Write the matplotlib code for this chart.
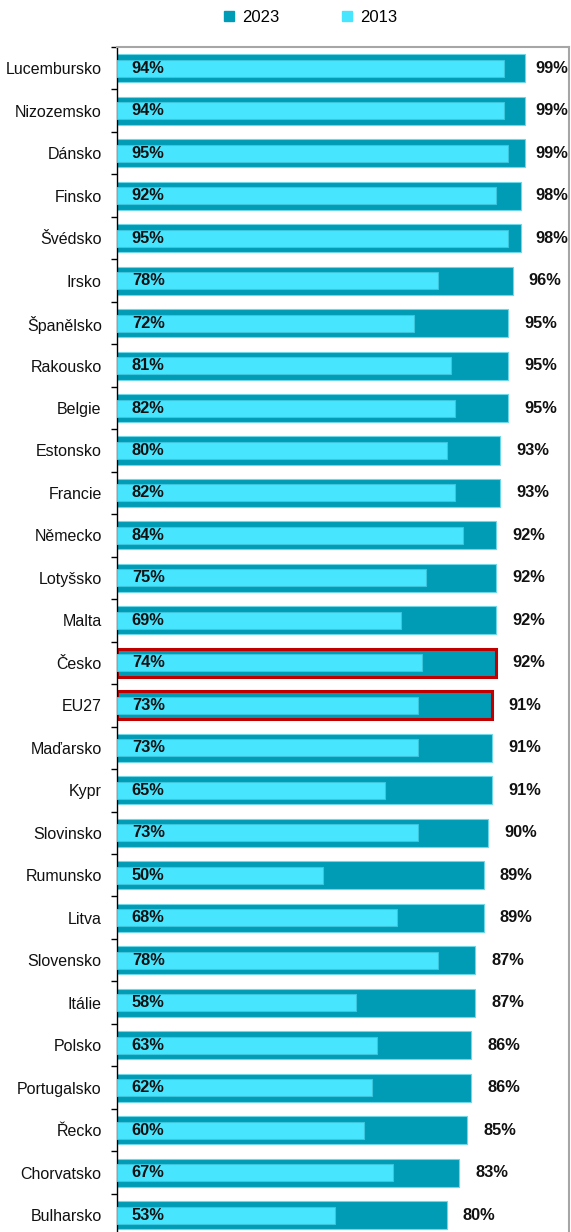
import matplotlib
matplotlib.use("Agg")
import matplotlib.pyplot as plt
from matplotlib.lines import Line2D

plt.rcParams['font.family'] = ['Liberation Sans', 'DejaVu Sans']

countries = ["Lucembursko", "Nizozemsko", "Dánsko", "Finsko", "Švédsko", "Irsko",
             "Španělsko", "Rakousko", "Belgie", "Estonsko", "Francie", "Německo",
             "Lotyšsko", "Malta", "Česko", "EU27", "Maďarsko", "Kypr", "Slovinsko",
             "Rumunsko", "Litva", "Slovensko", "Itálie", "Polsko", "Portugalsko",
             "Řecko", "Chorvatsko", "Bulharsko"]
v2023 = [99, 99, 99, 98, 98, 96, 95, 95, 95, 93, 93, 92, 92, 92, 92, 91, 91, 91, 90,
         89, 89, 87, 87, 86, 86, 85, 83, 80]
v2013 = [94, 94, 95, 92, 95, 78, 72, 81, 82, 80, 82, 84, 75, 69, 74, 73, 73, 65, 73,
         50, 68, 78, 58, 63, 62, 60, 67, 53]
highlight = ["Česko", "EU27"]

C23 = "#009BB5"
C13 = "#48E5FF"
W, H = 571, 1232
fig = plt.figure(figsize=(W / 100, H / 100), dpi=100)
top_px, bot_px, left_px, right_px = 47, 1236.25, 117, 569
ax = fig.add_axes([left_px / W, (H - bot_px) / H, (right_px - left_px) / W, (bot_px - top_px) / H])

y = list(range(len(countries)))
for i, (c, a, b) in enumerate(zip(countries, v2023, v2013)):
    if c in highlight:
        ax.barh(i, a, height=0.66, color=C23, edgecolor="#C00000", linewidth=2.2, zorder=2)
    else:
        ax.barh(i, a, height=0.66, color=C23, edgecolor="#6ED8E8", linewidth=0.8, zorder=2)
    ax.barh(i, b, height=0.40, color=C13, edgecolor="#3CC6DE", linewidth=0.8, zorder=3)
    ax.text(3.6, i, f"{b}%", ha="left", va="center", fontsize=11.8, fontweight="bold",
            color="#111111", zorder=4)
    ax.text(min(a + 3.9, 101.6), i, f"{a}%", ha="left", va="center", fontsize=11.8,
            fontweight="bold", color="#111111", zorder=4, clip_on=True)

ax.set_xlim(0, 109.7)
ax.set_ylim(len(countries) - 0.5, -0.5)
ax.set_yticks(y)
ax.set_yticklabels(countries, fontsize=11.5, color="#111111")
ax.set_yticks([i - 0.5 for i in range(len(countries) + 1)], minor=True)
ax.tick_params(axis="y", which="major", length=0, pad=11)
ax.tick_params(axis="y", which="minor", length=4, width=1, color="black", direction="out")
ax.set_xticks([])
for s in ["top", "right"]:
    ax.spines[s].set_color("#A6A6A6")
    ax.spines[s].set_linewidth(1.5)
ax.spines["bottom"].set_visible(False)
ax.spines["left"].set_color("black")
ax.spines["left"].set_linewidth(1)

handles = [Line2D([], [], marker="s", linestyle="none", markersize=7, color=C23),
           Line2D([], [], marker="s", linestyle="none", markersize=7, color=C13)]
fig.legend(handles, ["2023", "2013"], loc="center", bbox_to_anchor=(309 / W, 1 - 17 / H),
           ncol=2, frameon=False, fontsize=12, handletextpad=0.25, columnspacing=3.6,
           handlelength=1.0)

fig.savefig("out.png", dpi=100)
